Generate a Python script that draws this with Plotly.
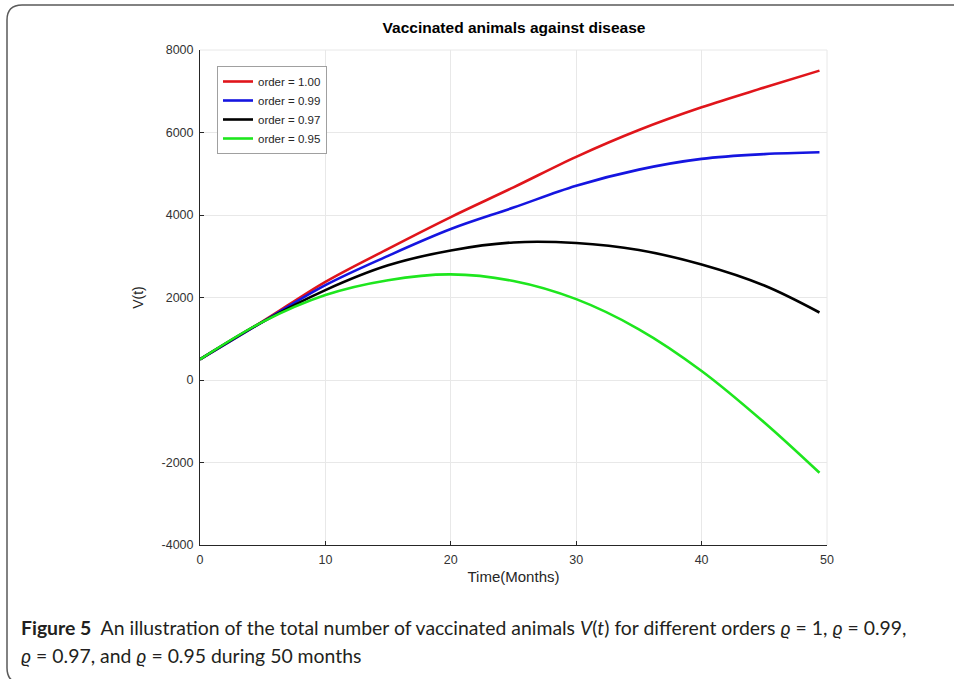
import plotly.graph_objects as go

# values
months = [0, 5, 10, 15, 20, 25, 30, 35, 40, 45, 49.4]
v_100 = [500, 1420, 2380, 3180, 3950, 4670, 5410, 6060, 6610, 7090, 7500]
v_099 = [500, 1410, 2300, 3010, 3660, 4180, 4710, 5100, 5360, 5475, 5520]
v_097 = [500, 1410, 2180, 2780, 3140, 3335, 3320, 3150, 2800, 2290, 1636]
v_095 = [500, 1410, 2060, 2420, 2560, 2400, 1960, 1230, 220, -1030, -2250]

labels = ["order = 1.00", "order = 0.99", "order = 0.97", "order = 0.95"]
colors = ["#e0151b", "#1515e0", "#000000", "#1ee61e"]

x_ticks = [0, 10, 20, 30, 40, 50]
y_ticks = [-4000, -2000, 0, 2000, 4000, 6000, 8000]
y_tick_text = ["-4000", "-2000", "0", "2000", "4000", "6000", "8000"]

W, H = 954, 679
L, R, T, B = 200, 127, 50, 134


def px(x):
    return (x - L) / (W - L - R)


def py(y):
    return (H - B - y) / (H - T - B)


fig = go.Figure()
for ys, name, c in zip([v_100, v_099, v_097, v_095], labels, colors):
    fig.add_trace(go.Scatter(x=months, y=ys, name=name, mode="lines",
                             line=dict(color=c, width=2.6, shape="spline")))

sans = "Liberation Sans, Arial, sans-serif"
axis_font = dict(family=sans, size=12.5, color="#333333")
fig.update_xaxes(range=[0, 50], tickvals=x_ticks, ticks="inside", ticklen=4,
                 tickcolor="#262626", showline=True, linecolor="#262626",
                 linewidth=1, showgrid=True, gridcolor="#e8e8e8", zeroline=False,
                 tickfont=axis_font, ticklabelstandoff=3,
                 title=dict(text="Time(Months)", standoff=5,
                            font=dict(family=sans, size=15, color="#262626")))
fig.update_yaxes(range=[-4000, 8000], tickvals=y_ticks, ticktext=y_tick_text,
                 ticks="inside", ticklen=4,
                 tickcolor="#262626", showline=True, linecolor="#262626",
                 linewidth=1, showgrid=True, gridcolor="#e8e8e8", zeroline=False,
                 tickfont=axis_font, ticklabelstandoff=3,
                 title=dict(text="V(t)", standoff=14,
                            font=dict(family=sans, size=14, color="#262626")))

# rounded frame round the whole figure, cut by the window edges
frame = (f"M {px(960)},{py(5)} L {px(22)},{py(5)} Q {px(7)},{py(5)} {px(7)},{py(20)} "
         f"L {px(7)},{py(668)} Q {px(7)},{py(683)} {px(22)},{py(683)} L {px(960)},{py(683)}")
fig.add_shape(type="path", path=frame, xref="paper", yref="paper",
              line=dict(color="#5a5a5a", width=1.5))

# top/right borders drawn as light grid lines
fig.add_shape(type="line", xref="paper", yref="paper", x0=0, x1=1, y0=1, y1=1,
              line=dict(color="#e8e8e8", width=1))
fig.add_shape(type="line", xref="paper", yref="paper", x0=1, x1=1, y0=0, y1=1,
              line=dict(color="#e8e8e8", width=1))

cap_font = dict(family="Lato, Noto Sans, sans-serif", size=19.4, color="#231f20")
fig.add_annotation(xref="paper", yref="paper", x=px(19), y=py(627),
                   xanchor="left", yanchor="middle", showarrow=False, font=cap_font,
                   text="<b>Figure 5</b>  An illustration of the total number of vaccinated "
                        "animals <i>V</i>(<i>t</i>) for different orders <i>ϱ</i> = 1, "
                        "<i>ϱ</i> = 0.99,")
fig.add_annotation(xref="paper", yref="paper", x=px(19), y=py(655),
                   xanchor="left", yanchor="middle", showarrow=False, font=cap_font,
                   text="<i>ϱ</i> = 0.97, and <i>ϱ</i> = 0.95 during 50 months")

fig.update_layout(
    width=W, height=H,
    margin=dict(l=L, r=R, t=T, b=B),
    paper_bgcolor="white", plot_bgcolor="white",
    title=dict(text="<b>Vaccinated animals against disease</b>",
               xref="paper", x=px(514), xanchor="center",
               y=1 - 28 / H, yanchor="middle",
               font=dict(family=sans, size=15.5, color="#000000")),
    showlegend=True,
    legend=dict(x=px(217), y=py(66), xanchor="left", yanchor="top",
                bgcolor="white", bordercolor="#a0a0a0", borderwidth=1,
                font=dict(family=sans, size=11.5, color="#262626"),
                itemwidth=30, tracegroupgap=0),
)

fig.write_html("out.html", config={"displayModeBar": False},
               post_script="document.body.style.margin='0px';")
